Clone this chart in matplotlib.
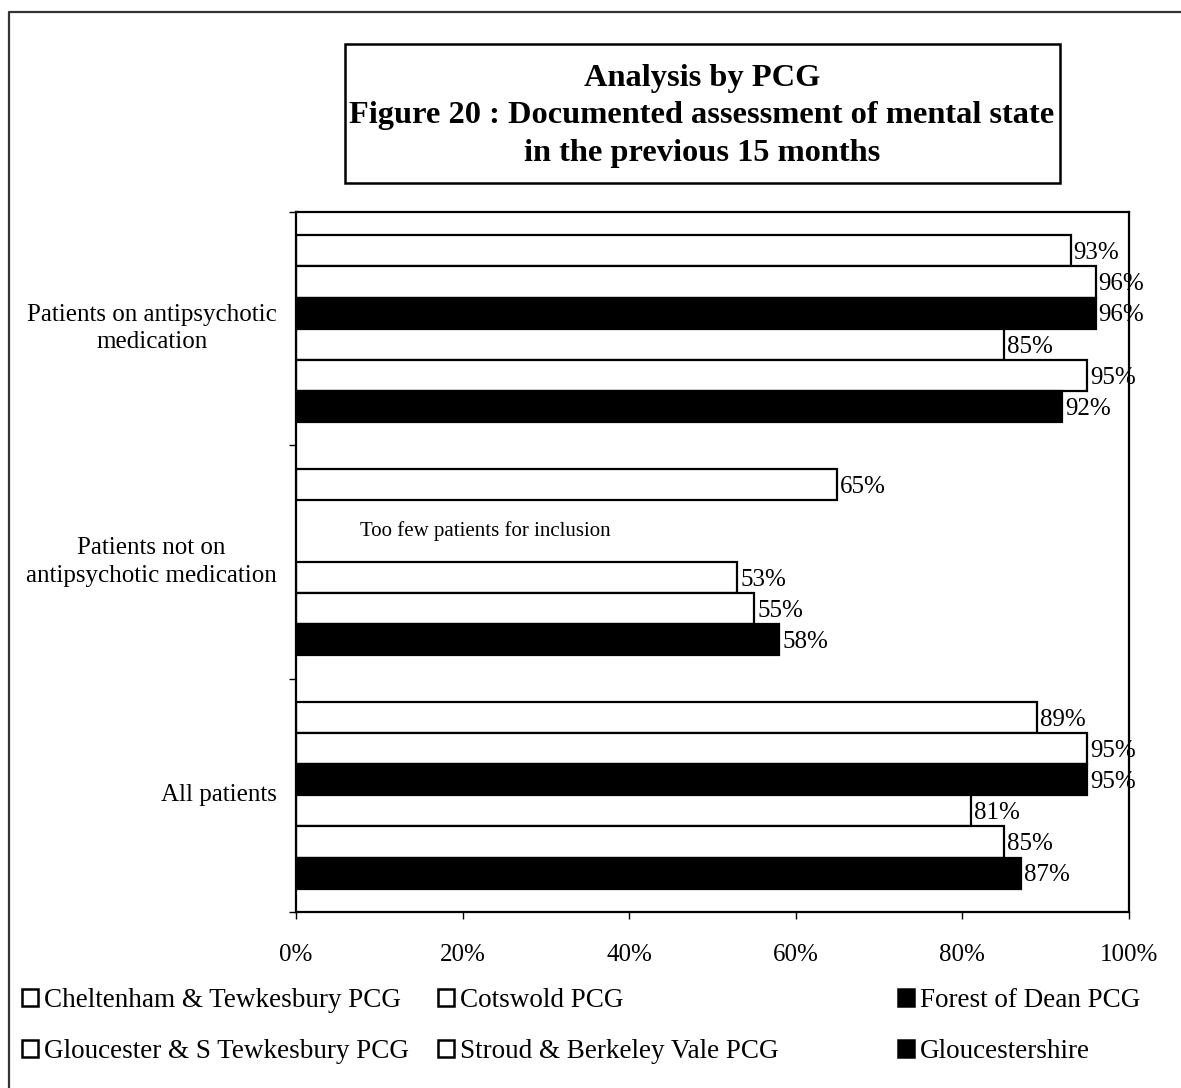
import numpy as np
import matplotlib.pyplot as plt
import matplotlib.transforms as mtransforms
from matplotlib.patches import Patch, Rectangle
from matplotlib.lines import Line2D

categories = ["Patients on antipsychotic\nmedication",
              "Patients not on\nantipsychotic medication",
              "All patients"]
series_names = ["Cheltenham & Tewkesbury PCG", "Cotswold PCG", "Forest of Dean PCG",
                "Gloucester & S Tewkesbury PCG", "Stroud & Berkeley Vale PCG", "Gloucestershire"]
cheltenham = [93, 65, 89]
cotswold = [96, np.nan, 95]
forest_of_dean = [96, np.nan, 95]
gloucester = [85, 53, 81]
stroud = [95, 55, 85]
gloucestershire = [92, 58, 87]
series_values = [cheltenham, cotswold, forest_of_dean, gloucester, stroud, gloucestershire]
fills = ["white", "white", "black", "white", "white", "black"]
x_ticks = [0, 20, 40, 60, 80, 100]
note = "Too few patients for inclusion"

plt.rcParams["font.family"] = ["Liberation Serif", "DejaVu Serif"]
FS = 18

W, H = 1181, 1088
fig = plt.figure(figsize=(W / 100, H / 100), dpi=100)

def fx(px):
    return px / W

def fy(py):
    return 1 - py / H

ax = fig.add_axes([fx(296), fy(912), fx(1129) - fx(296), fy(212) - fy(912)])

n = len(series_values)
h = 0.8 / n
ypos = np.arange(len(categories))
for j, (name, vals, fc) in enumerate(zip(series_names, series_values, fills)):
    yy = ypos + (j - (n - 1) / 2) * h
    ax.barh(yy, vals, height=h, color=fc, edgecolor="black", linewidth=1.6, label=name)
    for y, v in zip(yy, vals):
        if np.isnan(v):
            continue
        ax.text(v + 0.35, y + 0.01, f"{v:.0f}%", ha="left", va="center", fontsize=FS)

# missing Cotswold / Forest of Dean values in the second group
ax.text(7.7, 1 - h, note, ha="left", va="center", fontsize=15)

ax.set_xlim(0, 100)
ax.set_ylim(len(categories) - 0.5, -0.5)
ax.set_xticks(x_ticks)
ax.set_xticklabels([f"{t}%" for t in x_ticks], fontsize=FS)
ax.set_yticks(np.arange(len(categories) + 1) - 0.5)
ax.set_yticklabels([])
ax.tick_params(axis="x", direction="out", length=5, width=1, pad=18)
ax.tick_params(axis="y", direction="out", length=5, width=1)
for s in ax.spines.values():
    s.set_linewidth(1.6)

trans = mtransforms.blended_transform_factory(ax.transAxes, ax.transData)
for y, cat in zip(ypos, categories):
    ax.text(-0.023, y, cat, transform=trans, ha="right", va="center",
            multialignment="center", fontsize=FS, linespacing=1.3)

# title box
fig.add_artist(Rectangle((fx(345), fy(183)), fx(1060) - fx(345), fy(44) - fy(183),
                         transform=fig.transFigure, facecolor="none",
                         edgecolor="black", linewidth=1.8))
fig.text(fx(702), fy(116), "Analysis by PCG\nFigure 20 : Documented assessment of mental state\n"
         "in the previous 15 months", ha="center", va="center", fontsize=23.3,
         fontweight="bold", linespacing=1.4)

# outer frame (left and top edges)
fig.add_artist(Line2D([fx(9), fx(9), fx(1185)], [fy(1095), fy(12), fy(12)],
                      transform=fig.transFigure, color="#333333", linewidth=1.6))

# legend, one block per column
handles = [Patch(facecolor=fc, edgecolor="black", linewidth=1.8) for fc in fills]
for col, xpx in enumerate([22, 438, 898]):
    idx = [col, col + 3]
    fig.legend([handles[i] for i in idx], [series_names[i] for i in idx],
               loc="center left", bbox_to_anchor=(fx(xpx), fy(1026)),
               frameon=False, fontsize=19.5, handlelength=0.6, handleheight=0.6,
               handletextpad=0.2, labelspacing=0.95, borderpad=0, borderaxespad=0)

fig.savefig("out.png", dpi=100)
